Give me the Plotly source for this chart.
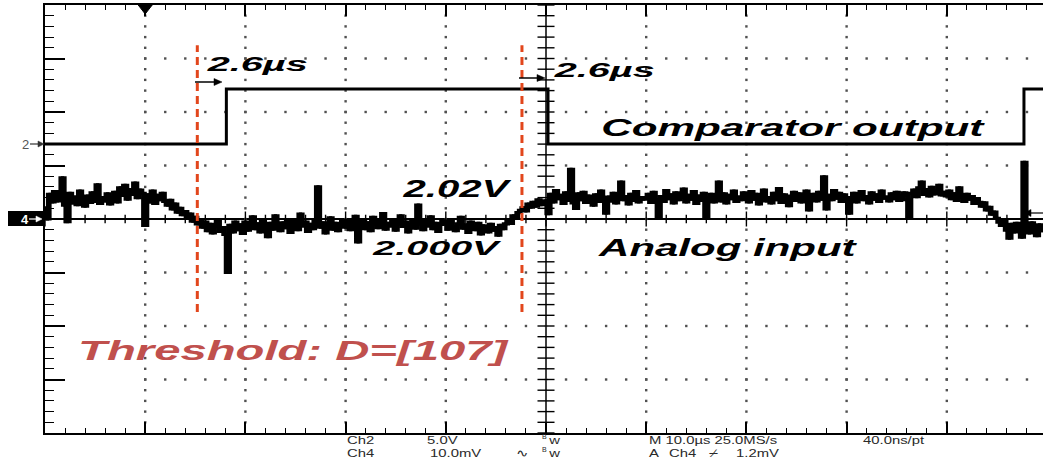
import json
import plotly.graph_objects as go

# Ch4 analog input, offset from the Ch4 marker in mV (10 mV/div), one sample every 0.25 us,
# one list per 10 us division
ch4_div0 = [2.1, 0.0, 4.6, 3.2, 5.1, 3.4, 4.4, 7.7, 2.6, -0.5, 4.8, 3.0, 4.1, 2.7, 5.2, 3.6, 2.4, 4.3, 3.1, 4.9,
            3.3, 6.4, 2.9, 4.0, 3.4, 4.7, 2.8, 3.9, 5.0, 3.2, 5.8, 4.4, 6.3, 3.7, 5.5, 4.6, 6.7, 4.0, 5.4, 4.8]
ch4_div1 = [-1.2, 4.5, 3.2, 5.2, 2.9, 4.4, 3.6, 4.8, 3.3, 2.6, 3.5, 1.9, 2.8, 1.3, 2.0, 0.8, 1.4, 0.2, 0.9, -0.4,
            0.3, -0.9, -0.2, -1.5, -0.6, -2.2, -1.0, -2.6, -1.3, -0.4, -2.3, -1.6, -2.9, -10.0, -1.2, -2.4, -0.6, -2.0, -1.1, -2.7]
ch4_div2 = [-0.6, -2.1, -1.0, 0.4, -1.8, -0.9, -2.4, -0.5, -1.4, -3.3, -0.8, -1.9, 0.6, -1.2, -2.2, -0.7, -1.6, -0.3, -2.5, -1.1,
            -0.4, -2.0, 0.9, -1.3, -0.6, -2.3, -1.0, -1.8, -0.2, 6.0, -1.5, -0.7, -2.6, -1.2, 0.2, -1.9, -0.8, -2.2, -1.0, -0.3]
ch4_div3 = [-1.5, -0.4, -2.0, -0.9, 0.5, -4.3, -1.1, -0.3, -1.8, -0.7, -2.2, 0.3, -1.0, -1.6, -0.5, 1.0, -1.9, -0.8, -1.3, -0.2,
            -2.1, -0.9, 0.6, -1.4, -0.6, -2.4, -1.1, -0.3, -1.7, 2.6, -0.9, -2.0, -0.5, -1.3, 0.4, -1.8, -0.8, -2.3, -1.0, -0.4]
ch4_div4 = [-0.8, -1.9, -0.5, -1.4, -2.2, -0.9, 0.3, -1.7, -1.1, -2.5, -0.6, -1.5, -2.0, -0.8, -2.8, -1.3, -1.9, -2.4, -1.0, -2.1,
            -1.6, -3.0, -1.2, -1.8, -0.9, -0.2, -0.8, 0.6, 0.1, 1.2, 1.6, 2.1, 1.5, 2.8, 2.2, 3.1, 2.4, 3.6, 2.7, 3.2]
ch4_div5 = [3.4, 1.0, 4.6, 3.2, 5.3, 3.8, 4.4, 2.9, 4.9, 3.5, 9.3, 3.0, 2.0, 4.7, 3.6, 5.0, 3.1, 4.3, 3.7, 2.6,
            4.5, 3.3, 5.2, 3.9, 1.1, 4.1, 3.4, 4.8, 3.0, 4.4, 6.9, 3.6, 4.2, 2.8, 4.6, 3.5, 5.1, 3.2, 4.0, 3.7]
ch4_div6 = [3.9, 4.6, 3.1, 5.0, 3.6, 0.4, 4.2, 3.3, 5.3, 3.8, 4.5, 3.0, 4.9, 3.6, 4.1, 5.6, 3.2, 4.4, 3.7, 5.1,
            2.9, 4.3, 3.5, 4.8, 0.4, 3.9, 4.6, 3.2, 4.0, 6.9, 3.4, 4.7, 3.0, 4.4, 3.8, 5.2, 3.3, 4.1, 3.6, 4.9]
ch4_div7 = [4.4, 3.2, 5.1, 3.7, 4.6, 2.8, 4.2, 5.4, 3.4, 4.0, 3.0, 4.8, 3.6, 5.7, 3.1, 4.5, 3.8, 2.5, 4.3, 5.0,
            3.5, 4.7, 3.2, 4.1, 5.2, 1.7, 3.9, 4.6, 3.4, 5.0, 3.7, 7.9, 1.9, 4.4, 3.6, 5.3, 3.9, 4.8, 3.3, 4.5]
ch4_div8 = [4.0, 1.1, 3.5, 4.8, 3.2, 4.4, 5.1, 3.6, 4.2, 3.0, 4.9, 3.7, 4.5, 3.3, 5.2, 3.9, 4.1, 3.4, 4.7, 3.8,
            5.0, 3.5, 4.3, 4.9, 3.6, 0.4, 4.8, 5.4, 4.2, 5.8, 6.9, 4.6, 5.5, 4.3, 5.9, 4.7, 5.2, 6.3, 4.5, 5.0]
ch4_div9 = [4.3, 5.2, 3.8, 4.7, 3.5, 5.8, 4.1, 3.3, 4.6, 3.7, 4.2, 2.9, 3.8, 3.1, 2.4, 3.0, 1.7, 2.2, 0.9, 1.3,
            0.1, -0.6, -1.2, -0.4, -2.1, -3.6, -1.0, -2.4, -0.8, -1.9, -3.4, 10.6, -1.3, -2.6, -0.7, -1.8, -3.1, -1.1, -2.2, -1.5]
sample_step_us = 0.25

# Ch2 comparator output (screen units, 10 per division)
comp_time = [0, 18.1, 18.1, 50.2, 50.2, 97.7, 97.7, 99.6]
comp_level = [14.0, 14.0, 24.3, 24.3, 14.0, 14.0, 24.3, 24.3]

# measurement cursors (us) and their vertical extent (screen units)
cursor_time = [15.2, 47.6]
cursor_span = [-17.4, 32.5]
trigger_time = 10.0
trigger_level = 1.1

labels = ["2.6\u00b5s", "2.6\u00b5s", "Comparator output", "2.02V", "2.000V", "Analog input", "Threshold: D=[107]"]
readout_row1 = ["Ch2", "5.0V", "w", "M 10.0\u00b5s 25.0MS/s", "40.0ns/pt"]
readout_row2 = ["Ch4", "10.0mV", "\u223f", "w", "A", "Ch4", "\u233f", "1.2mV"]

# ---------------- screen geometry ----------------
W, H = 1043, 460
ML, MR, MT, MB = 45, 0, 5, 27
PW, PH = W - ML - MR, H - MT - MB
X_RANGE = [0, 99.6]
Y_RANGE = [-40, 40]


def px_to_data(x, y):
    t = X_RANGE[0] + (x - ML) / PW * (X_RANGE[1] - X_RANGE[0])
    v = Y_RANGE[1] - (y - MT) / PH * (Y_RANGE[1] - Y_RANGE[0])
    return t, v


def px_to_paper(x, y):
    return (x - ML) / PW, (H - MB - y) / PH


def arrow_shapes(x_tail, x_head, y, color, width=1.5, head_len=8, head_half=3.5):
    """Horizontal arrow drawn from pixel positions, as paper-referenced shapes."""
    d = 1 if x_head > x_tail else -1
    a0 = px_to_paper(x_tail, y)
    a1 = px_to_paper(x_head - d * head_len + d, y)
    h = px_to_paper(x_head, y)
    b = px_to_paper(x_head - d * head_len, y - head_half)
    c = px_to_paper(x_head - d * head_len, y + head_half)
    return [
        dict(type="line", xref="paper", yref="paper", x0=a0[0], y0=a0[1], x1=a1[0], y1=a1[1],
             line=dict(color=color, width=width)),
        dict(type="path", xref="paper", yref="paper",
             path=f"M {h[0]} {h[1]} L {b[0]} {b[1]} L {c[0]} {c[1]} Z",
             fillcolor=color, line=dict(color=color, width=0.5)),
    ]


ch4_values = (ch4_div0 + ch4_div1 + ch4_div2 + ch4_div3 + ch4_div4 +
              ch4_div5 + ch4_div6 + ch4_div7 + ch4_div8 + ch4_div9)
ch4_time = [i * sample_step_us for i in range(len(ch4_values))]

fig = go.Figure()

# graticule dots
dot_x, dot_y = [], []
for i in range(1, 10):
    if i == 5:
        continue
    for k in range(1, 40):
        dot_x.append(i * 10)
        dot_y.append(-40 + k * 2)
for j in (-30, -20, -10, 10, 20, 30):
    for k in range(5, 50):
        dot_x.append(k * 2)
        dot_y.append(j)
fig.add_trace(go.Scatter(x=dot_x, y=dot_y, mode="markers", hoverinfo="skip",
                         marker=dict(symbol="square", size=2.4, color="#505050", line=dict(width=0))))

# centre-line tick marks
tx, ty = [], []
for k in range(0, 51):
    xx = k * 2
    h = 1.4 if k % 5 == 0 else 0.8
    tx += [xx, xx, None]
    ty += [-h, h, None]
for k in range(0, 41):
    yy = -40 + k * 2
    tx += [50 - 0.85, 50 + 0.85, None]
    ty += [yy, yy, None]
fig.add_trace(go.Scatter(x=tx, y=ty, mode="lines", hoverinfo="skip",
                         line=dict(color="black", width=1.4)))

# traces: the sampled Ch4 record drawn as a dense band (both step orientations), then Ch2
for shape in ("hv", "vh"):
    fig.add_trace(go.Scatter(x=ch4_time, y=ch4_values, mode="lines", line_shape=shape,
                             line=dict(color="black", width=3.2), name="Ch4"))
fig.add_trace(go.Scatter(x=comp_time, y=comp_level, mode="lines",
                         line=dict(color="black", width=3), name="Ch2"))

shapes = []
# vertical centre line
shapes.append(dict(type="line", xref="x", yref="y", x0=50, x1=50, y0=Y_RANGE[0], y1=Y_RANGE[1],
                   line=dict(color="black", width=1.5), layer="below"))
# cursors
for ct in cursor_time:
    shapes.append(dict(type="line", xref="x", yref="y", x0=ct, x1=ct, y0=cursor_span[0], y1=cursor_span[1],
                       line=dict(color="#E2461C", width=3, dash="8px,5px"), layer="above"))
# trigger position triangle
tri_depth = 9 * (Y_RANGE[1] - Y_RANGE[0]) / PH
shapes.append(dict(type="path", xref="x", yref="y",
                   path=f"M {trigger_time - 0.7} {Y_RANGE[1]} L {trigger_time + 0.7} {Y_RANGE[1]} L {trigger_time} {Y_RANGE[1] - tri_depth} Z",
                   fillcolor="black", line=dict(color="black", width=1)))
# Ch4 marker box
bx0, by0 = px_to_paper(8, 226)
bx1, by1 = px_to_paper(43, 211)
shapes.append(dict(type="rect", xref="paper", yref="paper", x0=bx0, x1=bx1, y0=by0, y1=by1,
                   fillcolor="black", line=dict(width=0)))
# arrows: under the 2.6us labels, channel markers, trigger level
shapes += arrow_shapes(195, 222, 82, "black")
shapes += arrow_shapes(519, 545, 78, "black")
shapes += arrow_shapes(30, 44, 144, "#333333", width=1.2, head_len=6, head_half=3)
shapes += arrow_shapes(29, 42, 219, "white", width=1.2, head_len=6, head_half=3)
shapes += arrow_shapes(1043, 1024, 213, "black", width=1.2, head_len=7, head_half=3.5)

ann = []
label_font = dict(family="Liberation Sans, Arial, sans-serif", weight="bold", style="italic", color="black")
label_pos = [(256, 64, 20), (603, 70, 20), (793, 127, 24), (457, 188, 24), (437, 247, 21), (727, 247, 24), (294, 350, 28)]
label_width = [103, 102, 384, 110, 131, 260, 432]
for txt, (cx, cy, sz) in zip(labels, label_pos):
    t, v = px_to_data(cx, cy)
    f = dict(label_font, size=sz)
    if txt.startswith("Threshold"):
        f["color"] = "#C0504D"
    ann.append(dict(text=txt, x=t, y=v, xref="x", yref="y", showarrow=False,
                    xanchor="center", yanchor="middle", font=f))

# channel marker numbers
x2, _ = px_to_paper(20, 0)
ann.append(dict(text="2", x=x2, y=comp_level[0], xref="paper", yref="y", showarrow=False,
                font=dict(family="Liberation Sans, Arial", size=13, color="#555555")))
x4, _ = px_to_paper(19, 0)
ann.append(dict(text="4", x=x4, y=0, xref="paper", yref="y", showarrow=False,
                font=dict(family="Liberation Sans, Arial", size=13, color="white", weight="bold")))

# readout text below the graticule
info_font = dict(family="Liberation Sans, Arial, sans-serif", size=11, color="#2a2a2a")
row1_x = [346, 426, 547, 648, 862]
row2_x = [346, 429, 515, 547, 648, 668, 708, 735]
for row, xs, ypx in [(readout_row1, row1_x, 440), (readout_row2, row2_x, 453)]:
    for txt, xpx in zip(row, xs):
        px_, py_ = px_to_paper(xpx, ypx)
        ann.append(dict(text=txt, x=px_, y=py_, xref="paper", yref="paper", showarrow=False,
                        xanchor="left", yanchor="middle", borderpad=0, font=info_font))
# the small raised "B" of the bandwidth-limit flags
for ypx in (437, 450):
    px_, py_ = px_to_paper(541, ypx)
    ann.append(dict(text="B", x=px_, y=py_, xref="paper", yref="paper", showarrow=False,
                    xanchor="left", yanchor="middle", borderpad=0,
                    font=dict(info_font, size=7)))

axis_common = dict(showline=True, linecolor="black", linewidth=2, showticklabels=False,
                   ticks="inside", tickcolor="black", tickwidth=1.5, fixedrange=True)
fig.update_layout(
    width=W, height=H, margin=dict(l=ML, r=MR, t=MT, b=MB, pad=0),
    paper_bgcolor="white", plot_bgcolor="white", showlegend=False,
    xaxis=dict(axis_common, range=X_RANGE, tick0=0, dtick=10, ticklen=11, mirror="allticks",
               showgrid=False, zeroline=False,
               minor=dict(dtick=2, ticklen=5, ticks="inside", tickcolor="black", tickwidth=1.3, showgrid=False)),
    yaxis=dict(axis_common, range=Y_RANGE, tick0=0, dtick=10, ticklen=20, mirror=False,
               showgrid=False, zeroline=True, zerolinecolor="black", zerolinewidth=1.5,
               minor=dict(dtick=2, ticklen=9, ticks="inside", tickcolor="black", tickwidth=1.3, showgrid=False)),
    shapes=shapes, annotations=ann,
)

# horizontal stretch of the captured screen text (the original screenshot is widened)
targets = dict(zip(labels, label_width))
readout_keys = sorted(set(readout_row1 + readout_row2))
post = """
var gd = document.getElementById('{plot_id}');
var targets = TARGETS;
var readout = READOUT;
function stretchLabels(){
  gd.querySelectorAll('text.annotation-text').forEach(function(el){
    if (el.getAttribute('data-stretched')) return;
    var key = el.textContent;
    var b = el.getBBox();
    if (!b.width) return;
    var s, ox;
    if (key in targets) { s = targets[key] / b.width; ox = b.x + b.width / 2; }
    else if (readout.indexOf(key) >= 0) { s = 1.35; ox = b.x; }
    else return;
    var prev = el.getAttribute('transform') || '';
    el.setAttribute('transform', prev + ' translate(' + ox + ',0) scale(' + s + ',1) translate(' + (-ox) + ',0)');
    el.setAttribute('data-stretched', '1');
  });
}
stretchLabels();
""".replace("TARGETS", json.dumps(targets)).replace("READOUT", json.dumps(readout_keys))

fig.write_html("out.html", post_script=post, config={"displayModeBar": False})
